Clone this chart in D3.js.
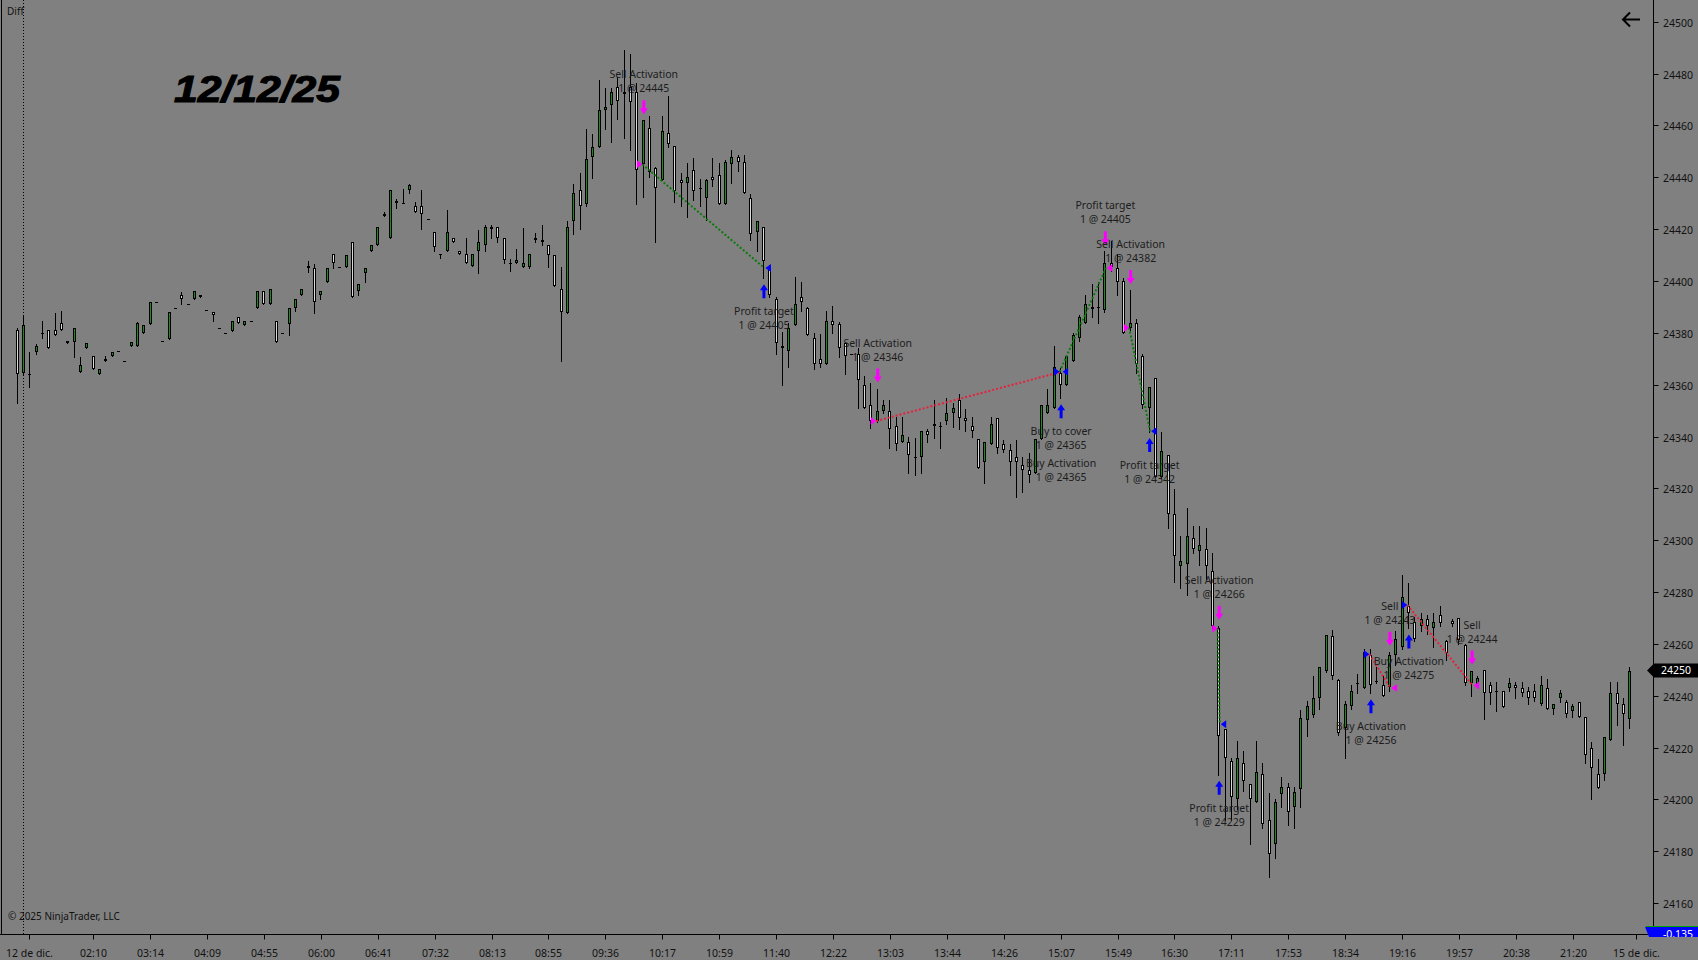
<!DOCTYPE html>
<html><head><meta charset="utf-8">
<script src="https://cdn.jsdelivr.net/npm/d3@7"></script>
<style>
html,body{margin:0;padding:0;background:#808080;overflow:hidden;}
svg{display:block;}
text{font-family:"Noto Sans","Open Sans",sans-serif;}
</style></head><body>
<svg id="chart" width="1698" height="960"></svg>
<script>
const opens = [
24381,24364.5,24364,24372.75,24380,24381,24381,24383.75,24376,24376.5,
24364.75,24374,24371,24364,24369.75,24371,24373,24369,24374.75,24374.75,
24379.75,24383.5,24391.75,24376.75,24377.75,24389.75,24394.75,24391,24393,24394.75,
24388.75,24388,24381.75,24379.75,24380.75,24386,24383,24384.75,24389.75,24396,
24391,24384.75,24379.75,24383.5,24389.75,24394.75,24405.75,24405,24394.75,24399.75,
24410.5,24405.5,24405.5,24415,24396,24403,24411.75,24413.75,24425.75,24416.75,
24430,24430,24435,24428.75,24428.75,24423.75,24418.75,24410.5,24411.75,24416.75,
24411.75,24410.5,24405.75,24411.75,24413.75,24420.75,24420.75,24416.75,24406.75,24406.75,
24405.5,24405.5,24416.75,24415.75,24413.75,24410,24396.75,24387.75,24423,24435,
24429.75,24447.75,24451.75,24465.75,24467.75,24474.75,24472.75,24475,24473,24445,
24459,24443.75,24438.75,24457,24452,24438.75,24437.75,24442.75,24435.75,24432,
24440,24440.75,24429.75,24445,24447.75,24445.75,24432,24418.75,24420.75,24405.5,
24393,24375,24373,24383,24393.75,24389.75,24378,24369.75,24368,24384.75,
24383.5,24376,24372,24372,24359.75,24352,24346,24349.75,24349.75,24344,
24337.75,24337.75,24332.25,24332,24342,24344.75,24344,24346,24349,24354.25,
24347,24344,24339,24330,24337,24347,24337,24334.75,24332,24329,
24327,24325.75,24339,24349,24351,24364.5,24359.75,24369,24378,24383.75,
24390,24390,24388.75,24406.75,24405,24400,24382,24383.75,24371,24351,
24362.75,24324.5,24332.75,24310,24290,24291,24300.75,24295.75,24296.75,24288,
24266,24227,24214.75,24200,24214,24206,24199,24210,24192,24182.75,
24202.25,24204.75,24197,24204,24230.75,24232.75,24239,24249.75,24263,24246,
24227.5,24236,24244.5,24243,24255.75,24245.75,24244,24243.5,24255.75,24258.75,
24274.75,24268.5,24266.75,24269.5,24266,24271.25,24261,24269,24270,24259.75,
24244.75,24244.25,24250,24244.25,24241.75,24241.75,24243,24244.25,24243,24241.75,
24241.75,24236.75,24243,24234.75,24239,24237.75,24234,24237.75,24231.75,24219.75,
24209.75,24209.75,24223,24241,24236.75,24231];
const highs = [
24382,24386.5,24372.5,24375.75,24384.5,24381,24387.5,24388.5,24376.75,24381.75,
24370.5,24376,24371,24366,24371.25,24372.75,24373,24369,24376.5,24384.25,
24383,24391.75,24391.75,24376.75,24388,24389.75,24395.75,24391,24396,24394.75,
24388.75,24388,24381.75,24379.75,24384.75,24386,24384.75,24384.75,24396,24396,
24396.75,24384.75,24379.75,24389.75,24393,24396.75,24407.75,24406.5,24396,24405,
24410.5,24405.5,24410,24415,24398.75,24405,24413.75,24420.75,24426.5,24435,
24431.5,24435.5,24437.5,24430.5,24435.25,24423.75,24418.75,24410.5,24427.5,24416.75,
24411.75,24416.5,24410.5,24419.75,24421.5,24421.5,24420.75,24416.75,24408.5,24412.5,
24420.25,24410.5,24418.5,24421.5,24413.75,24410,24405.5,24423,24437.25,24441.5,
24458.5,24456.5,24477.5,24474.25,24474.25,24478.5,24489.25,24487.5,24476.25,24462,
24463.5,24444,24463.5,24471.5,24452,24441.5,24445.5,24447.25,24439.5,24439.5,
24447.25,24445.5,24446.75,24450.5,24448.5,24448.5,24433.5,24423,24420.75,24406,
24393.75,24380.5,24383.75,24401.5,24399.5,24390,24379.75,24379.5,24388.5,24390.5,
24384.25,24376,24372,24374,24363.5,24360.5,24358.5,24354.25,24354.25,24347.5,
24347.5,24340,24339.25,24342.25,24342.75,24354.25,24345.75,24354.75,24353,24356.25,
24350.5,24347.5,24339,24337.75,24347.5,24347,24338.75,24337,24338.5,24332.25,
24333.5,24339,24352,24358.5,24374.75,24366.25,24371,24379.75,24386.75,24394.75,
24399,24399.75,24411.5,24415.25,24410.25,24401,24396.5,24385.5,24372,24359,
24362.75,24341.75,24332.75,24319.75,24301.75,24312.5,24305.5,24305.5,24304.75,24295,
24267,24227,24216,24222.5,24218.75,24206,24222.5,24214.25,24202.5,24200,
24208.5,24206.5,24204.75,24234.5,24238,24247.5,24251,24263.5,24265.5,24246.5,
24238,24244.25,24248.5,24258,24258,24251,24247.5,24257,24265,24286.5,
24283.5,24270.5,24271.75,24271.25,24271.75,24274.5,24261.5,24269.5,24270,24260,
24249.75,24247.5,24250,24245.5,24245.5,24242,24246.75,24245.5,24245.5,24243.5,
24244.5,24247.5,24246.5,24237,24242.25,24238.5,24237,24237.75,24231.75,24222.25,
24215.5,24224,24245.5,24245.5,24239,24251.25];
const lows = [
24353,24364,24359,24371.75,24378,24374,24379,24381,24376,24370.75,
24364.75,24374,24366,24364,24369,24371,24373,24369,24374.75,24374.75,
24379.75,24383.5,24391.75,24376.75,24377.75,24389.75,24391,24391,24393,24393.75,
24388.75,24384.75,24381.75,24379.75,24380.75,24383.75,24383,24384.75,24389.75,24391,
24391,24376.5,24379.75,24379,24388.5,24394.75,24403.5,24387.75,24393,24399.75,
24405,24405.5,24405.5,24393.75,24394.75,24399.75,24411.75,24413.75,24425,24416.75,
24428,24430,24433.75,24426.75,24420,24423.75,24411.75,24408.75,24411.75,24415,
24410.5,24406.75,24405.75,24403,24411.75,24416.75,24415,24406.75,24403.75,24406.75,
24405.5,24405,24415,24413.75,24405.5,24398,24369,24387.75,24418,24420,
24428.75,24439.75,24451.75,24458.75,24453.75,24462.5,24455,24450.5,24429.75,24432.5,
24440,24415,24438.75,24451.75,24430.5,24428.75,24424.75,24431.25,24428.75,24423.5,
24436.5,24429.75,24429.75,24437.75,24442.5,24433.75,24415.75,24411.75,24401,24393.75,
24371.75,24360,24366.75,24383,24388.5,24379,24366,24366.75,24368,24379.75,
24370.75,24364,24372,24351,24351,24343.25,24345.75,24349,24335.75,24334.75,
24337.75,24325.75,24325,24325.75,24338,24339.25,24335.75,24345,24343.75,24342.75,
24342,24339.75,24327.75,24322,24337,24333.5,24334,24325,24316.75,24318.75,
24322.5,24325.75,24339,24349,24351,24354.75,24359.75,24369,24376.75,24383.75,
24386,24383.75,24388,24404,24394.5,24380,24381,24364.5,24351,24341.75,
24324.5,24324,24304.75,24284,24281.75,24278.75,24295,24290.5,24285,24266,
24209.5,24192,24192,24196.25,24203.25,24182.75,24199,24189,24170.25,24177.25,
24197,24190,24189,24197,24224.5,24232,24234.75,24249,24246.5,24225,
24216,24235,24241,24243,24241,24245,24240,24242,24252,24258,
24266,24261,24265,24263.75,24258.75,24267,24253.75,24267,24260,24244,
24239.75,24243.5,24231,24237,24234,24235.75,24242,24239,24240,24236.75,
24238,24236.5,24234.75,24233,24237.75,24232,24231.75,24231.75,24214,24200,
24204.5,24207.5,24223,24228.75,24221,24227.75];
const closes = [
24364,24383,24364,24374.75,24380,24374,24379,24381,24376.75,24381.75,
24367.75,24376,24366,24366,24369,24372.75,24373,24369,24376.5,24383.75,
24383,24391.75,24391.75,24376.75,24388,24389.75,24393,24391,24396,24393.75,
24388.75,24386.75,24381.75,24379.75,24384.75,24383.75,24384.75,24384.75,24396,24391,
24396.75,24376.5,24379.75,24389.75,24393,24396.75,24405,24391.75,24396,24405,
24406.75,24405.5,24410,24393.75,24398.75,24405,24413.75,24420.75,24425,24435,
24430.75,24430,24437,24426.75,24425.75,24423.75,24413,24410.5,24418.75,24415,
24410.5,24406.75,24410.5,24415,24420.75,24420,24416.75,24408,24406.75,24408,
24406.75,24410.5,24415.75,24415,24410,24398,24388,24420.75,24433.75,24428.75,
24447,24451.75,24465.75,24467,24473,24469.5,24472,24469,24442.75,24462,
24442,24435.75,24457.75,24452.75,24434.75,24437.75,24440,24434.75,24435.75,24438.75,
24438.75,24429.75,24445.75,24447.75,24445.75,24433.75,24418,24423,24407.75,24394.75,
24376,24374,24381.75,24391,24391.75,24379,24368,24368,24384.75,24383,
24374,24371,24372,24361.75,24351,24346,24349.75,24352,24342.75,24337,
24340.75,24332.75,24332.25,24342,24340.75,24344,24344,24349,24351,24347,
24346,24342,24327.75,24337.75,24344.75,24335.75,24334.75,24330,24330,24327,
24325,24339,24352,24352,24366.75,24359.75,24371,24379,24386,24391,
24389,24390,24406.75,24405.5,24399.75,24380,24383.75,24368,24352,24359,
24324.5,24334.5,24310,24293.75,24292,24301.75,24296.75,24298,24290,24267,
24224.5,24216,24201,24216,24207,24200,24210.75,24190.5,24179,24199,
24204.75,24195,24203,24231.5,24236,24239,24251,24263.5,24247.75,24225.75,
24236.75,24241.75,24244.75,24256.75,24244.25,24245.5,24240,24255.75,24262,24278,
24271.75,24261.75,24269.5,24266.75,24268.5,24268,24256.5,24267.5,24261.5,24244.75,
24249.75,24246.75,24241,24241,24241.75,24235.75,24244.75,24243,24241,24239,
24239,24244.25,24234.75,24236.75,24241,24233,24236,24231.75,24217,24212,
24204.5,24224,24241,24236.75,24233,24249.75];

const priceTicks = [24160,24180,24200,24220,24240,24260,24280,24300,24320,24340,24360,24380,24400,24420,24440,24460,24480,24500];
const timeLabels = ["12 de dic.","02:10","03:14","04:09","04:55","06:00","06:41","07:32","08:13","08:55","09:36","10:17","10:59","11:40","12:22","13:03","13:44","14:26","15:07","15:49","16:30","17:11","17:53","18:34","19:16","19:57","20:38","21:20","15 de dic."];
const timeLabelBars = [1.9,12,21,30,39,48,57,66,75,84,93,102,111,120,129,138,147,156,165,174,183,192,201,210,219,228,237,246,256];

// executions (zero-based bar index)
const execBars   = [99,118,136,165,165,172,176,179,190,190,214,217,220,230];
const execPrices = [24445,24405,24346,24365,24365,24405,24382,24342,24266,24229,24256,24243,24275,24244];
const execSides  = ["sell","buy","sell","buy","buy","sell","sell","buy","sell","buy","buy","sell","buy","sell"];
const execNames  = ["Sell Activation","Profit target","Sell Activation","Buy to cover","Buy Activation","Profit target","Sell Activation","Profit target","Sell Activation","Profit target","Buy Activation","Sell","Buy Activation","Sell"];
const execRoles  = ["entry","exit","entry","exit","entry","exit","entry","exit","entry","exit","entry","exit","entry","exit"];
const tradeEntryIdx = [0,2,4,6,8,10,12];
const tradeExitIdx  = [1,3,5,7,9,11,13];

const lastPrice = 24250;
const diffValue = "-0,135";
const titleText = "12/12/25";

const svg = d3.select("#chart");
const W = 1698, H = 960;
const axisX = 1653.5, axisY = 934.5;
const x = d3.scaleLinear().domain([0, 255]).range([17.3, 1629.7]);
const y = d3.scaleLinear().domain([24160, 24500]).range([903.2, 21.7]);

svg.append("rect").attr("width", W).attr("height", H).attr("fill", "#808080");

// session break dotted line
svg.append("line").attr("x1", 23.5).attr("x2", 23.5).attr("y1", 0).attr("y2", axisY)
  .attr("stroke", "#000").attr("stroke-width", 1).attr("stroke-dasharray", "1,2");

// left border
svg.append("line").attr("x1", 1.5).attr("x2", 1.5).attr("y1", 0).attr("y2", axisY).attr("stroke", "#000");

// title & labels
svg.append("text").attr("x", 174).attr("y", 101.5).attr("textLength", 166).attr("lengthAdjust", "spacingAndGlyphs")
  .style("font-family", "'Liberation Sans', Arial, sans-serif").style("font-weight", "bold").style("font-style", "italic")
  .style("font-size", "36px").attr("fill", "#000").attr("stroke", "#000").attr("stroke-width", 1.1).text(titleText);
svg.append("text").attr("x", 7).attr("y", 14.5).style("font-size", "10px").attr("fill", "#111").text("Diff");
svg.append("text").attr("x", 8).attr("y", 920).style("font-size", "10px").attr("fill", "#111").text("\u00a9 2025 NinjaTrader, LLC");

// candles
const bars = opens.map((o, i) => ({i, o, h: highs[i], l: lows[i], c: closes[i]}));
const gC = svg.append("g");
bars.forEach(b => {
  const px = Math.floor(x(b.i));
  const cx = px + 0.5;
  gC.append("line").attr("x1", cx).attr("x2", cx).attr("y1", Math.round(y(b.h))).attr("y2", Math.round(y(b.l)) + 1)
    .attr("stroke", "#000").attr("stroke-width", 1);
  const yo = y(b.o), yc = y(b.c);
  const top = Math.round(Math.min(yo, yc)), bot = Math.round(Math.max(yo, yc));
  if (bot - top < 2) {
    gC.append("line").attr("x1", px - 1).attr("x2", px + 2).attr("y1", top + 0.5).attr("y2", top + 0.5)
      .attr("stroke", "#000").attr("stroke-width", 1);
  } else {
    gC.append("rect").attr("x", px - 0.5).attr("y", top + 0.5).attr("width", 2).attr("height", bot - top - 1)
      .attr("fill", b.c > b.o ? "#1e8c1e" : "#dadada").attr("stroke", "#000").attr("stroke-width", 1);
  }
});

// trade lines
const gT = svg.append("g");
tradeEntryIdx.forEach((ei, k) => {
  const xi = tradeExitIdx[k];
  const dir = execSides[ei] === "sell" ? -1 : 1;
  const pnl = (execPrices[xi] - execPrices[ei]) * dir;
  gT.append("line")
    .attr("x1", x(execBars[ei]) - 1).attr("y1", y(execPrices[ei]))
    .attr("x2", x(execBars[xi]) + 1).attr("y2", y(execPrices[xi]))
    .attr("stroke", pnl > 0 ? "#0a7a0a" : "#e8203c").attr("stroke-width", 2).attr("stroke-dasharray", "2,2");
});

// execution triangles
execBars.forEach((bi, k) => {
  const col = execSides[k] === "sell" ? "#ff00ff" : "#0000ff";
  const yy = y(execPrices[k]);
  const cx = x(bi) + 0.5;
  let p;
  if (execRoles[k] === "entry") {
    p = `M${cx - 7},${yy - 4} L${cx - 1.5},${yy} L${cx - 7},${yy + 4} Z`;
  } else {
    p = `M${cx + 7},${yy - 4} L${cx + 1.5},${yy} L${cx + 7},${yy + 4} Z`;
  }
  gT.append("path").attr("d", p).attr("fill", col);
});

// arrows & labels
const seen = {};
execBars.forEach((bi, k) => {
  const side = execSides[k];
  const key = bi + side;
  const stack = seen[key] || 0;
  seen[key] = stack + 1;
  const cx = x(bi) + 0.5;
  const col = side === "sell" ? "#ff00ff" : "#0000ff";
  if (side === "sell") {
    const tip = y(highs[bi]) - 6;
    if (stack === 0) {
      gT.append("path").attr("d", `M${cx - 1.5},${tip - 14} H${cx + 1.5} V${tip - 6} H${cx + 4} L${cx},${tip} L${cx - 4},${tip - 6} H${cx - 1.5} Z`).attr("fill", col);
    }
    const l2 = tip - 14 - 11.5 - stack * 32.4;
    gT.append("text").attr("x", cx).attr("y", l2 - 14).attr("dy", "0.35em").attr("text-anchor", "middle")
      .style("font-size", "10.5px").attr("fill", "#1c1c1c").text(execNames[k]);
    gT.append("text").attr("x", cx).attr("y", l2).attr("dy", "0.35em").attr("text-anchor", "middle")
      .style("font-size", "10.5px").attr("fill", "#1c1c1c").text("1 @ " + execPrices[k]);
  } else {
    const tip = y(lows[bi]) + 6;
    if (stack === 0) {
      gT.append("path").attr("d", `M${cx - 1.5},${tip + 14} H${cx + 1.5} V${tip + 6} H${cx + 4} L${cx},${tip} L${cx - 4},${tip + 6} H${cx - 1.5} Z`).attr("fill", col);
    }
    const l1 = tip + 14 + 13 + stack * 32.4;
    gT.append("text").attr("x", cx).attr("y", l1).attr("dy", "0.35em").attr("text-anchor", "middle")
      .style("font-size", "10.5px").attr("fill", "#1c1c1c").text(execNames[k]);
    gT.append("text").attr("x", cx).attr("y", l1 + 14).attr("dy", "0.35em").attr("text-anchor", "middle")
      .style("font-size", "10.5px").attr("fill", "#1c1c1c").text("1 @ " + execPrices[k]);
  }
});

// right axis
const gY = svg.append("g");
gY.append("line").attr("x1", axisX).attr("x2", axisX).attr("y1", 0).attr("y2", axisY).attr("stroke", "#000");
priceTicks.forEach(p => {
  const yy = Math.round(y(p)) + 0.5;
  gY.append("line").attr("x1", axisX).attr("x2", axisX + 5).attr("y1", yy).attr("y2", yy).attr("stroke", "#000");
  gY.append("text").attr("x", 1663).attr("y", yy + 0.5).attr("dy", "0.35em").style("font-size", "10.5px").attr("fill", "#111").text(p);
});

// bottom axis
const gX = svg.append("g");
gX.append("line").attr("x1", 0).attr("x2", axisX).attr("y1", axisY).attr("y2", axisY).attr("stroke", "#000");
timeLabels.forEach((t, k) => {
  const xx = Math.round(x(timeLabelBars[k])) + 0.5;
  gX.append("line").attr("x1", xx).attr("x2", xx).attr("y1", axisY).attr("y2", axisY + 5).attr("stroke", "#000");
  gX.append("text").attr("x", xx).attr("y", 953).attr("dy", "0.35em").attr("text-anchor", "middle")
    .style("font-size", "10.5px").attr("fill", "#111").text(t);
});

// last price flag
const yl = Math.round(y(lastPrice)) + 0.5;
svg.append("path").attr("d", `M1647,${yl} L1654,${yl - 7} H1698 V${yl + 7} H1654 Z`).attr("fill", "#000");
svg.append("text").attr("x", 1676).attr("y", yl).attr("dy", "0.35em").attr("text-anchor", "middle")
  .style("font-size", "10.5px").attr("fill", "#fff").text(lastPrice);

// diff marker (clipped)
const defs = svg.append("defs");
defs.append("clipPath").attr("id", "diffclip").append("rect").attr("x", 1640).attr("y", 926).attr("width", 60).attr("height", 11);
svg.append("line").attr("x1", 1646).attr("x2", 1698).attr("y1", 926.5).attr("y2", 926.5).attr("stroke", "#00a000").attr("stroke-width", 1);
const gD = svg.append("g").attr("clip-path", "url(#diffclip)");
gD.append("path").attr("d", "M1645,927 H1698 V944 H1652 Z").attr("fill", "#0000ff");
gD.append("text").attr("x", 1678).attr("y", 934).attr("dy", "0.35em").attr("text-anchor", "middle")
  .style("font-size", "10.5px").attr("fill", "#fff").text(diffValue);

// back arrow top-right
svg.append("path").attr("d", "M1640,19.5 H1623 M1630,12.5 L1623,19.5 L1630,26.5")
  .attr("fill", "none").attr("stroke", "#000").attr("stroke-width", 2);
</script>
</body></html>
